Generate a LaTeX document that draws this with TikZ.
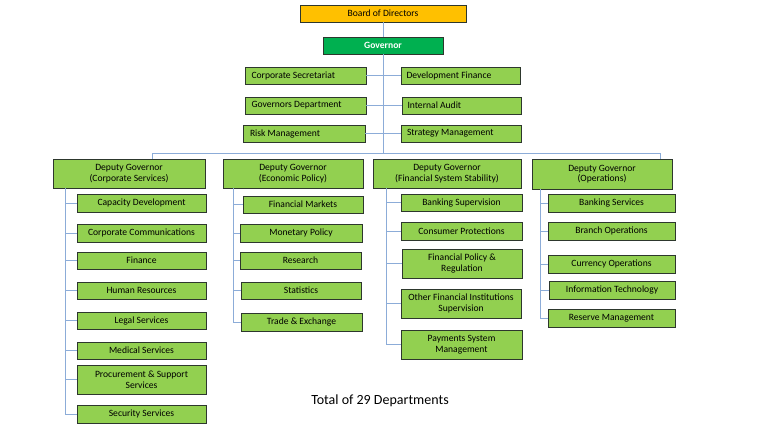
\documentclass[tikz,border=0pt]{standalone}
\usepackage{fontspec}
\setmainfont{Carlito}
\usetikzlibrary{calc}
\definecolor{boxgreen}{RGB}{146,208,80}
\definecolor{govgreen}{RGB}{0,176,80}
\definecolor{boardgold}{RGB}{255,192,0}
\definecolor{linkblue}{RGB}{140,172,216}
\definecolor{edgegray}{RGB}{45,55,45}
\tikzset{
  box/.style={draw=edgegray, line width=0.8pt, fill=boxgreen, inner sep=0pt, align=center,
    font=\fontsize{9.6}{10.6}\selectfont, text=black},
  leftbox/.style={box, text width=108pt, align=flush left},
  link/.style={draw=linkblue, line width=0.9pt},
}
\newcommand\bx[7][box]{\node[#1, minimum width={(#5-#3)*1pt}, minimum height={(#6-#4)*1pt}] (#2) at ({(#3+#5)/2},{(#4+#6)/2}) {#7};}
\begin{document}
\begin{tikzpicture}[x=1pt,y=-1pt]
\useasboundingbox[fill=white] (0,0) rectangle (768,432);
% top
\bx[box,fill=boardgold]{bod}{300}{5}{466}{22}{Board of Directors}
\bx[box,fill=govgreen,text=white,font=\fontsize{9.6}{10.6}\selectfont\bfseries]{gov}{323}{37}{443}{54}{Governor}
\bx[leftbox]{cs}{245}{67}{366}{84}{Corporate Secretariat}
\bx[leftbox]{df}{401}{67}{520}{84}{Development Finance}
\bx[leftbox]{gd}{245}{97}{366}{114}{Governors Department}
\bx[leftbox]{ia}{402}{97}{521}{114}{Internal Audit}
\bx[leftbox]{rm}{243}{125}{365}{142}{Risk Management}
\bx[leftbox]{sm}{401}{125}{521}{142}{Strategy Management}
% deputy governors
\bx{dga}{53}{159}{205}{188}{Deputy Governor\\(Corporate Services)}
\bx{dgb}{223}{159}{363}{188}{Deputy Governor\\(Economic Policy)}
\bx{dgc}{373}{159}{521}{188}{Deputy Governor\\(Financial System Stability)}
\bx{dgd}{532}{159}{672}{189}{Deputy Governor\\(Operations)}
% corporate services
\bx{a1}{77}{194}{206}{212}{Capacity Development}
\bx{a2}{77}{224}{206}{242}{Corporate Communications}
\bx{a3}{77}{252}{206}{269}{Finance}
\bx{a4}{77}{282}{206}{299}{Human Resources}
\bx{a5}{77}{312}{206}{329}{Legal Services}
\bx{a6}{77}{342}{206}{359}{Medical Services}
\bx{a7}{77}{365}{206}{394}{Procurement \& Support\\Services}
\bx{a8}{77}{405}{206}{423}{Security Services}
% economic policy
\bx{b1}{243}{196}{363}{213}{Financial Markets}
\bx{b2}{240}{224}{362}{242}{Monetary Policy}
\bx{b3}{240}{252}{361}{269}{Research}
\bx{b4}{241}{282}{361}{299}{Statistics}
\bx{b5}{241}{313}{362}{331}{Trade \& Exchange}
% financial system stability
\bx{c1}{401}{194}{522}{211}{Banking Supervision}
\bx{c2}{401}{222}{522}{240}{Consumer Protections}
\bx{c3}{402}{249}{522}{278}{Financial Policy \&\\Regulation}
\bx{c4}{401}{289}{521}{318}{Other Financial Institutions\\Supervision}
\bx{c5}{401}{330}{522}{359}{Payments System\\Management}
% operations
\bx{d1}{548}{194}{675}{212}{Banking Services}
\bx{d2}{548}{222}{675}{240}{Branch Operations}
\bx{d3}{548}{255}{675}{273}{Currency Operations}
\bx{d4}{549}{281}{675}{299}{Information Technology}
\bx{d5}{548}{309}{675}{327}{Reserve Management}
% total
\node[font=\fontsize{14}{16}\selectfont, anchor=center] (total) at (380,401) {Total of 29 Departments};
% connectors
\coordinate (spine) at (383,153);
\coordinate (hl) at (152,153);
\coordinate (hr) at (660,153);
\draw[link] (bod.south) -- (gov.north);
\draw[link] (gov.south) -- (spine);
\draw[link] (hl) -- (hr);
\draw[link] (hl) -- (hl |- dga.north);
\draw[link] (hr) -- (hr |- dgd.north);
\foreach \n in {cs,gd,rm}{\draw[link] (\n.east) -- (\n.east -| spine);}
\foreach \n in {df,ia,sm}{\draw[link] (\n.west) -- (\n.west -| spine);}
\coordinate (va) at (65,188);
\coordinate (vb) at (233,188);
\coordinate (vc) at (386,188);
\coordinate (vd) at (540,189);
\foreach \n in {a1,a2,a3,a4,a5,a6,a7,a8}{\draw[link] (va) |- (\n.west);}
\foreach \n in {b1,b2,b3,b4,b5}{\draw[link] (vb) |- (\n.west);}
\foreach \n in {c1,c2,c3,c4,c5}{\draw[link] (vc) |- (\n.west);}
\foreach \n in {d1,d2,d3,d4,d5}{\draw[link] (vd) |- (\n.west);}
\end{tikzpicture}
\end{document}
